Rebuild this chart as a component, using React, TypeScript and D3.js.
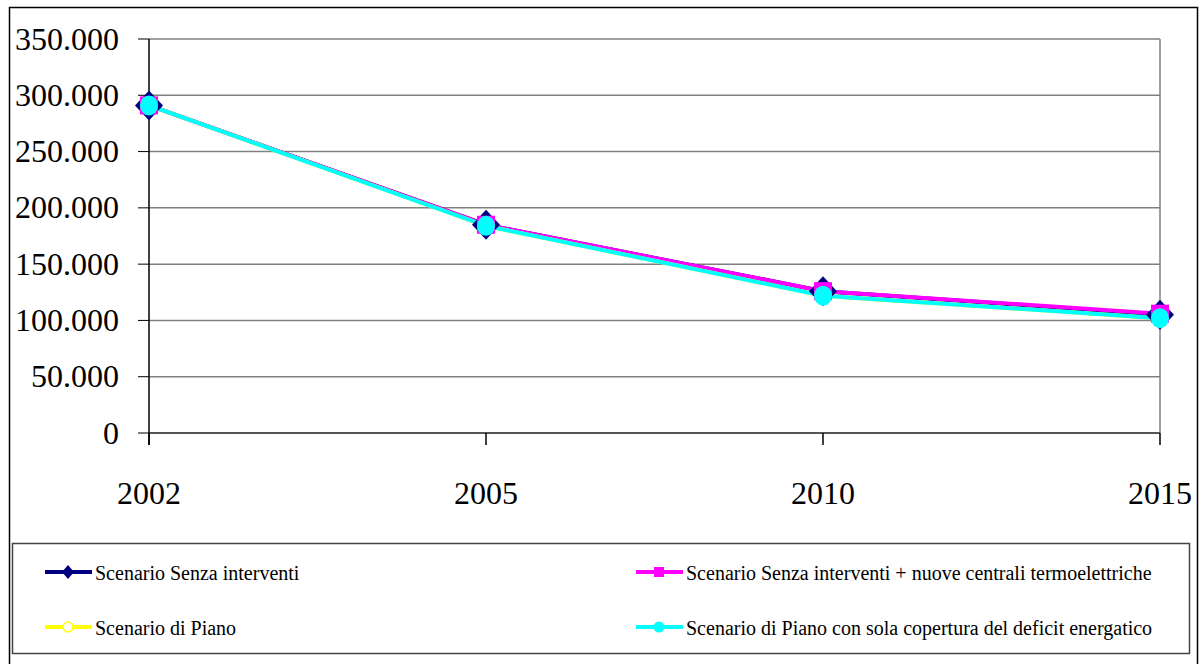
import React from "react";
import * as d3 from "d3";

const years = ["2002", "2005", "2010", "2015"];
const yTicks = [0, 50000, 100000, 150000, 200000, 250000, 300000, 350000];
const senzaInterventi = [291000, 185000, 126000, 105000];
const senzaNuoveCentrali = [291000, 185000, 126000, 106000];
const scenarioPiano = [291000, 184000, 122000, 102000];
const pianoSolaCopertura = [291000, 184000, 122000, 102000];

const seriesNames = [
  "Scenario Senza interventi",
  "Scenario Senza interventi + nuove centrali termoelettriche",
  "Scenario di Piano",
  "Scenario di Piano con sola copertura del deficit energatico",
];
const seriesColors = ["#000080", "#FF00FF", "#FFFF00", "#00FFFF"];
const seriesMarkers = ["diamond", "square", "hollow", "circle"];
const seriesValues = [senzaInterventi, senzaNuoveCentrali, scenarioPiano, pianoSolaCopertura];

const FONT = "'Liberation Serif', 'DejaVu Serif', serif";

function Marker({ type, color, x, y, big }: { type: string; color: string; x: number; y: number; big: boolean }) {
  if (type === "diamond") {
    const hw = big ? 14 : 6;
    const hh = big ? 15 : 7;
    return <path d={`M${x},${y - hh}L${x + hw},${y}L${x},${y + hh}L${x - hw},${y}Z`} fill={color} />;
  }
  if (type === "square") {
    const s = big ? 18 : 10;
    return <rect x={x - s / 2} y={y - s / 2} width={s} height={s} fill={color} />;
  }
  if (type === "hollow") {
    const r = big ? 7.5 : 5;
    return <ellipse cx={x} cy={y} rx={r} ry={big ? r + 1 : r} fill="#fff" stroke={color} strokeWidth={1.5} />;
  }
  const r = big ? 9 : 5.5;
  return <ellipse cx={x} cy={y} rx={r} ry={big ? r + 1 : r} fill={color} />;
}

export default function App() {
  const x = d3.scalePoint<string>().domain(years).range([149, 1160]);
  const y = d3.scaleLinear().domain([0, 350000]).range([433, 39]);
  const line = d3
    .line<number>()
    .x((_, i) => x(years[i]) as number)
    .y((d) => y(d));
  const fmt = (v: number) => (v === 0 ? "0" : d3.format(",")(v).replace(/,/g, "."));

  const legendPos = [
    { lx: 45, ly: 572 },
    { lx: 636, ly: 572 },
    { lx: 45, ly: 627 },
    { lx: 636, ly: 627 },
  ];

  return (
    <svg
      width={1203}
      height={664}
      style={{ position: "absolute", left: 0, top: 0, display: "block", background: "#fff", fontFamily: FONT }}
    >
      <rect x={9.5} y={7.5} width={1188} height={680} fill="#fff" stroke="#000" strokeWidth={1.5} />

      {/* grid */}
      {yTicks.map((t) => (
        <g key={t}>
          {t > 0 && <line x1={149} x2={1160} y1={y(t)} y2={y(t)} stroke="#808080" strokeWidth={1.5} />}
          <line x1={138} x2={149} y1={y(t)} y2={y(t)} stroke="#000" strokeWidth={1} />
          <text x={119} y={y(t) + 10.5} textAnchor="end" fontSize={32} fill="#000" style={{ fontFamily: FONT }}>
            {fmt(t)}
          </text>
        </g>
      ))}
      <line x1={1160} x2={1160} y1={y(350000)} y2={433} stroke="#808080" strokeWidth={1.5} />
      {/* x axis */}
      <line x1={149} x2={1160} y1={433} y2={433} stroke="#555" strokeWidth={2} />
      {years.map((yr) => (
        <g key={yr}>
          <line x1={x(yr)} x2={x(yr)} y1={433} y2={445} stroke="#000" strokeWidth={1.5} />
          <text x={x(yr)} y={504} textAnchor="middle" fontSize={32} fill="#000" style={{ fontFamily: FONT }}>
            {yr}
          </text>
        </g>
      ))}
      <line x1={149} x2={149} y1={y(350000)} y2={445} stroke="#000" strokeWidth={1.5} />

      {/* series lines */}
      {seriesValues.map((vals, si) => (
        <path key={si} d={line(vals) || ""} fill="none" stroke={seriesColors[si]} strokeWidth={4} />
      ))}
      {/* markers */}
      {seriesValues.map((vals, si) =>
        vals.map((v, i) => (
          <Marker
            key={`${si}-${i}`}
            type={seriesMarkers[si]}
            color={seriesColors[si]}
            x={x(years[i]) as number}
            y={y(v)}
            big={true}
          />
        ))
      )}

      {/* legend */}
      <rect x={12.5} y={543.5} width={1177} height={110} fill="#fff" stroke="#444" strokeWidth={1.5} />
      {seriesNames.map((name, si) => {
        const p = legendPos[si];
        return (
          <g key={name}>
            <line x1={p.lx} x2={p.lx + 47} y1={p.ly} y2={p.ly} stroke={seriesColors[si]} strokeWidth={4} />
            <Marker type={seriesMarkers[si]} color={seriesColors[si]} x={p.lx + 23} y={p.ly} big={false} />
            <text x={p.lx + 50} y={p.ly + 7.5} fontSize={20} fill="#000" style={{ fontFamily: FONT }}>
              {name}
            </text>
          </g>
        );
      })}
    </svg>
  );
}
